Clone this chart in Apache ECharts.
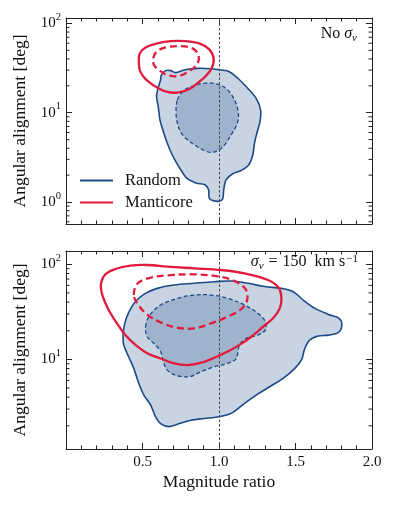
<!DOCTYPE html>
<html>
<head>
<meta charset="utf-8">
<script src="https://cdn.jsdelivr.net/npm/echarts@6/dist/echarts.min.js"></script>
<style>
  html, body { margin: 0; padding: 0; background: #fff; }
  #main { width: 397px; height: 506px; }
</style>
</head>
<body>
<div id="main"></div>
<script>
// contour outlines, [magnitude ratio, angular alignment (deg)]
var topRandomOuter = [[0.623,26.4],[0.651,29.6],[0.684,29.6],[0.717,28.1],[0.772,30.1],[0.860,31.4],[0.947,31.1],[1.013,30.1],[1.068,28.8],[1.123,24.3],[1.189,18.7],[1.243,14.5],[1.272,10.7],[1.268,7.96],[1.250,6.15],[1.232,4.56],[1.221,3.38],[1.195,2.61],[1.145,2.25],[1.090,2.07],[1.046,1.77],[1.031,1.37],[1.024,1.08],[1.002,1.02],[0.958,1.04],[0.936,1.11],[0.932,1.37],[0.908,1.56],[0.849,1.63],[0.789,1.85],[0.750,2.30],[0.717,2.85],[0.684,3.68],[0.658,4.75],[0.636,6.15],[0.614,8.32],[0.603,11.7],[0.592,15.1],[0.601,18.7],[0.618,23.3]];
var topRandomInner = [[0.728,13.9],[0.761,17.2],[0.816,19.6],[0.893,21.3],[0.969,21.3],[1.035,19.3],[1.083,15.8],[1.118,11.7],[1.127,8.67],[1.105,6.68],[1.079,5.65],[1.046,4.56],[1.002,3.84],[0.947,3.59],[0.904,3.78],[0.849,4.26],[0.794,4.97],[0.754,5.90],[0.728,7.64],[0.719,10.3]];
var topManticoreOuter = [[0.476,37.3],[0.482,46.1],[0.520,53.8],[0.596,59.7],[0.684,63.4],[0.783,63.4],[0.871,59.7],[0.936,51.2],[0.965,40.6],[0.952,31.4],[0.914,25.8],[0.864,21.7],[0.805,18.3],[0.728,16.8],[0.662,17.1],[0.607,18.7],[0.553,21.3],[0.509,24.9],[0.482,30.1]];
var topManticoreInner = [[0.570,40.6],[0.592,48.2],[0.651,53.8],[0.739,55.7],[0.827,52.5],[0.866,44.3],[0.860,35.7],[0.816,30.1],[0.739,25.8],[0.662,26.4],[0.607,30.1],[0.575,34.2]];

var bottomRandomOuter = [[0.410,31.2],[0.454,40.5],[0.509,48.3],[0.596,55.8],[0.706,60.5],[0.838,63.1],[0.969,65.6],[1.079,66.7],[1.189,63.1],[1.298,58.3],[1.408,55.8],[1.485,51.5],[1.550,42.1],[1.627,34.4],[1.715,29.7],[1.785,27.0],[1.803,23.0],[1.781,19.2],[1.715,18.0],[1.649,17.6],[1.594,16.0],[1.561,13.0],[1.539,9.85],[1.496,8.04],[1.419,6.31],[1.331,5.15],[1.243,4.21],[1.167,3.44],[1.079,2.70],[0.991,2.48],[0.904,2.39],[0.816,2.29],[0.728,2.08],[0.673,1.96],[0.618,2.11],[0.586,2.48],[0.553,3.31],[0.509,4.21],[0.476,5.58],[0.443,8.04],[0.410,10.6],[0.377,14.2],[0.373,18.0],[0.384,23.9]];
var bottomRandomInner = [[0.520,22.0],[0.548,29.2],[0.618,37.3],[0.728,43.8],[0.838,47.5],[0.947,47.5],[1.057,43.8],[1.167,37.3],[1.254,30.5],[1.303,24.9],[1.303,20.3],[1.254,18.0],[1.178,16.6],[1.134,14.2],[1.112,10.2],[1.057,9.08],[0.969,8.36],[0.882,7.41],[0.805,6.56],[0.717,6.81],[0.662,7.70],[0.640,9.08],[0.618,12.1],[0.575,14.7],[0.531,17.3]];
var bottomManticoreOuter = [[0.228,60.5],[0.257,78.4],[0.322,89.2],[0.421,96.7],[0.531,98.3],[0.662,94.4],[0.838,90.7],[1.013,87.1],[1.167,80.3],[1.320,68.4],[1.390,56.7],[1.408,43.8],[1.397,34.4],[1.353,27.0],[1.287,22.0],[1.211,17.3],[1.134,14.2],[1.057,12.1],[0.969,10.4],[0.882,9.22],[0.794,8.71],[0.706,9.08],[0.618,10.2],[0.531,11.6],[0.454,14.2],[0.388,18.0],[0.333,23.9],[0.279,33.0],[0.241,45.6]];
var bottomManticoreInner = [[0.443,47.5],[0.469,63.1],[0.553,72.2],[0.684,77.1],[0.838,78.4],[0.991,74.7],[1.101,66.7],[1.173,55.0],[1.184,42.1],[1.145,33.8],[1.057,28.1],[0.947,23.9],[0.838,21.2],[0.728,21.5],[0.618,24.5],[0.535,29.2],[0.476,36.7]];

var refRatio = 1.0;
var topYRange = [0.567, 115];
var bottomYRange = [1.14, 138];
var topMinorTicks = [0.6,0.7,0.8,0.9,2,3,4,5,6,7,8,9,20,30,40,50,60,70,80,90];
var bottomMinorTicks = [2,3,4,5,6,7,8,9,20,30,40,50,60,70,80,90];

var FONT = "'Liberation Serif', 'DejaVu Serif', serif";
var BLUE = '#1c4a87';
var BLUE_FILL = 'rgba(28,74,135,0.24)';
var RED = '#e21b3c';

var myChart = echarts.init(document.getElementById('main'));

function contour(name, pts, ax, z, fill, stroke, width, dash) {
    return {
        type: 'custom', name: name, z: z, silent: true,
        xAxisIndex: ax, yAxisIndex: ax,
        itemStyle: { color: stroke },
        data: [pts[0]],
        renderItem: function (params, api) {
            return {
                type: 'polygon',
                shape: { points: pts.map(function (p) { return api.coord(p); }), smooth: 0.35 },
                style: { fill: fill, stroke: stroke, lineWidth: width, lineDash: dash }
            };
        }
    };
}

function minorTicks(vals, ax) {
    return {
        type: 'custom', silent: true, z: 10,
        xAxisIndex: ax, yAxisIndex: ax,
        data: vals.map(function (v) { return [0, v]; }),
        renderItem: function (params, api) {
            var v = api.value(1);
            var l = api.coord([0, v]);
            var r = api.coord([2, v]);
            var s = { stroke: '#222', lineWidth: 1 };
            return {
                type: 'group', children: [
                    { type: 'line', shape: { x1: l[0], y1: l[1], x2: l[0] + 3.5, y2: l[1] }, style: s },
                    { type: 'line', shape: { x1: r[0], y1: r[1], x2: r[0] - 3.5, y2: r[1] }, style: s }
                ]
            };
        }
    };
}

function vline(ax) {
    return {
        type: 'line', xAxisIndex: ax, yAxisIndex: ax, z: 4, data: [], silent: true,
        markLine: {
            silent: true, symbol: 'none', label: { show: false },
            lineStyle: { color: '#444', width: 1, type: [2.5, 2] },
            data: [{ xAxis: refRatio }]
        }
    };
}

function xAxis(grid, pos, labels) {
    return {
        type: 'value', gridIndex: grid, position: pos, min: 0, max: 2, interval: 0.5,
        axisLine: { show: true, onZero: false, lineStyle: { color: '#222', width: 1 } },
        axisTick: { show: true, inside: true, length: 6, lineStyle: { color: '#222' } },
        minorTick: { show: true, splitNumber: 5, length: 3.5, lineStyle: { color: '#222' } },
        splitLine: { show: false },
        axisLabel: {
            show: labels, margin: 6, fontFamily: FONT, fontSize: 15, color: '#111',
            formatter: function (v) { return v === 0 ? '' : v.toFixed(1); }
        },
        name: labels ? 'Magnitude ratio' : '', nameLocation: 'middle', nameGap: 24,
        nameTextStyle: { fontFamily: FONT, fontSize: 17.5, color: '#111' }
    };
}

function yAxis(grid, pos, range, labels) {
    return {
        type: 'log', logBase: 10, gridIndex: grid, position: pos, min: range[0], max: range[1],
        axisLine: { show: true, onZero: false, lineStyle: { color: '#222', width: 1 } },
        axisTick: { show: true, inside: true, length: 6, lineStyle: { color: '#222' } },
        splitLine: { show: false },
        axisLabel: {
            show: labels, margin: 5, showMinLabel: false, showMaxLabel: false,
            formatter: function (v) {
                var e = Math.log10(v);
                if (Math.abs(e - Math.round(e)) > 1e-6) return '';
                return '{b|10}{s|' + Math.round(e) + '}';
            },
            rich: {
                b: { fontFamily: FONT, fontSize: 15, lineHeight: 15, color: '#111', verticalAlign: 'bottom' },
                s: { fontFamily: FONT, fontSize: 10.5, lineHeight: 10.5, color: '#111', verticalAlign: 'bottom', padding: [0, 0, 8, 0] }
            }
        },
        name: labels ? 'Angular alignment [deg]' : '', nameLocation: 'middle', nameGap: 35,
        nameTextStyle: { fontFamily: FONT, fontSize: 17.5, color: '#111' }
    };
}

var textRich = {
    n: { fontFamily: FONT, fontSize: 16, lineHeight: 16, fontWeight: 'normal', color: '#111', verticalAlign: 'top' },
    eq: { fontFamily: FONT, fontSize: 16, lineHeight: 16, fontWeight: 'normal', color: '#111', verticalAlign: 'top', padding: [0, 5, 0, 5] },
    i: { fontFamily: FONT, fontSize: 16, lineHeight: 16, fontWeight: 'normal', color: '#111', fontStyle: 'italic', verticalAlign: 'top' },
    sub: { fontFamily: FONT, fontSize: 11, lineHeight: 11, fontWeight: 'normal', color: '#111', fontStyle: 'italic', verticalAlign: 'top', padding: [7, 0, 0, 0] },
    sup: { fontFamily: FONT, fontSize: 11, lineHeight: 11, fontWeight: 'normal', color: '#111', verticalAlign: 'top', padding: [0, 0, 0, 1] }
};

option = {
    animation: false,
    backgroundColor: '#fff',
    grid: [
        { left: 66, top: 18, width: 306, height: 206 },
        { left: 66, top: 251, width: 306, height: 198 }
    ],
    title: [
        { text: '{n|No }{i|σ}{sub|v}', right: 40, top: 26, padding: 0, textStyle: { fontWeight: 'normal', rich: textRich } },
        { text: '{i|σ}{sub|v}{eq|=}{n|150  km s}{sup|−1}', right: 39, top: 254, padding: 0, textStyle: { fontWeight: 'normal', rich: textRich } }
    ],
    legend: {
        orient: 'vertical', left: 80, top: 172, padding: 0, itemGap: 5,
        itemWidth: 33, itemHeight: 2,
        textStyle: { fontFamily: FONT, fontSize: 16.5, color: '#111', padding: [0, 0, 0, 7] },
        data: [
            { name: 'Random', icon: 'rect', itemStyle: { color: BLUE } },
            { name: 'Manticore', icon: 'rect', itemStyle: { color: RED } }
        ]
    },
    xAxis: [xAxis(0, 'bottom', false), xAxis(0, 'top', false), xAxis(1, 'bottom', true), xAxis(1, 'top', false)],
    yAxis: [yAxis(0, 'left', topYRange, true), yAxis(0, 'right', topYRange, false), yAxis(1, 'left', bottomYRange, true), yAxis(1, 'right', bottomYRange, false)],
    series: [
        contour('Random', topRandomOuter, 0, 2, BLUE_FILL, BLUE, 1.6, null),
        contour('Random', topRandomInner, 0, 3, BLUE_FILL, BLUE, 1.3, [4, 2.5]),
        vline(0),
        contour('Manticore', topManticoreOuter, 0, 5, 'none', RED, 2.3, null),
        contour('Manticore', topManticoreInner, 0, 6, 'none', RED, 2.3, [7, 4]),
        minorTicks(topMinorTicks, 0),
        contour('Random', bottomRandomOuter, 2, 2, BLUE_FILL, BLUE, 1.6, null),
        contour('Random', bottomRandomInner, 2, 3, BLUE_FILL, BLUE, 1.3, [4, 2.5]),
        vline(2),
        contour('Manticore', bottomManticoreOuter, 2, 5, 'none', RED, 2.3, null),
        contour('Manticore', bottomManticoreInner, 2, 6, 'none', RED, 2.3, [7, 4]),
        minorTicks(bottomMinorTicks, 2)
    ]
};
myChart.setOption(option);
</script>
</body>
</html>
